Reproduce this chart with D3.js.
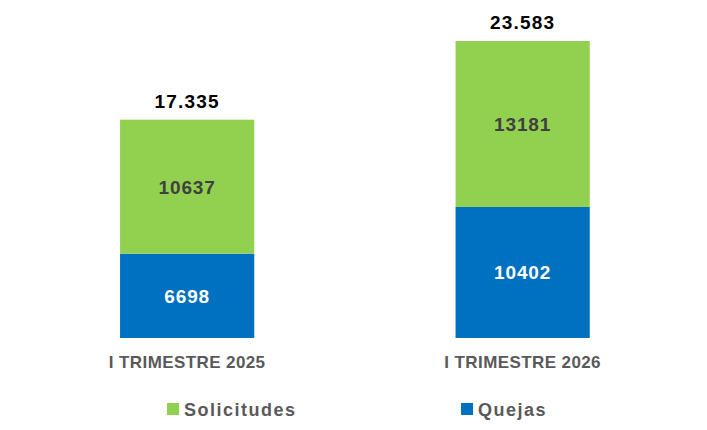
<!DOCTYPE html>
<html>
<head>
<meta charset="utf-8">
<script src="https://cdn.jsdelivr.net/npm/d3@7"></script>
<style>
  body { margin: 0; background: #fff; }
  text { font-family: "Liberation Sans", Arial, sans-serif; font-weight: bold; }
</style>
</head>
<body>
<script>
// data
let periods = ["I TRIMESTRE 2025", "I TRIMESTRE 2026"]
let quejas = [6698, 10402]
let solicitudes = [10637, 13181]
let totalLabels = ["17.335", "23.583"]
let seriesNames = ["Solicitudes", "Quejas"]
let colors = {Solicitudes: "#92D050", Quejas: "#0070C0"}

let width = 707, height = 430

let svg = d3.select('body')
  .append('svg')
  .attr('width', width)
  .attr('height', height)

let table = periods.map((p, i) => ({period: p, Quejas: quejas[i], Solicitudes: solicitudes[i]}))
let stacked = d3.stack().keys(["Quejas", "Solicitudes"])(table)

let scaleX = d3.scaleBand()
  .domain(periods)
  .range([19.4, 690.4])
  .paddingInner(0.6)
  .paddingOuter(0.3)

let scaleY = d3.scaleLinear()
  .domain([0, 23583])
  .range([338, 41])

let layers = svg.selectAll('g.layer')
  .data(stacked)
  .enter()
  .append('g')
  .attr('class', 'layer')
  .attr('fill', d => colors[d.key])

layers.selectAll('rect')
  .data(d => d)
  .enter()
  .append('rect')
  .attr('x', d => scaleX(d.data.period))
  .attr('width', scaleX.bandwidth())
  .attr('y', d => scaleY(d[1]))
  .attr('height', d => scaleY(d[0]) - scaleY(d[1]))

// values inside the segments
stacked.forEach(layer => {
  svg.selectAll(null)
    .data(layer)
    .enter()
    .append('text')
    .attr('x', d => scaleX(d.data.period) + scaleX.bandwidth() / 2)
    .attr('y', d => (scaleY(d[0]) + scaleY(d[1])) / 2 + 7)
    .attr('text-anchor', 'middle')
    .attr('font-size', 19)
    .attr('letter-spacing', 0.9)
    .attr('fill', layer.key == "Quejas" ? "#ffffff" : "#404040")
    .text(d => d.data[layer.key])
})

// totals on top
svg.selectAll('text.total')
  .data(table)
  .enter()
  .append('text')
  .attr('class', 'total')
  .attr('x', d => scaleX(d.period) + scaleX.bandwidth() / 2)
  .attr('y', d => scaleY(d.Quejas + d.Solicitudes) - 12)
  .attr('text-anchor', 'middle')
  .attr('font-size', 19)
  .attr('letter-spacing', 1.2)
  .attr('fill', '#000')
  .text((d, i) => totalLabels[i])

// category axis labels
let xAxis = svg.append('g')
  .attr('transform', 'translate(0,338)')
  .call(d3.axisBottom(scaleX).tickSize(0).tickPadding(18))
xAxis.select('.domain').remove()
xAxis.selectAll('text')
  .attr('font-size', 17)
  .attr('letter-spacing', 0.4)
  .attr('fill', '#595959')
  .style('font-family', '"Liberation Sans", Arial, sans-serif')
  .style('font-weight', 'bold')

// legend
let legendX = [167, 461]
let legend = svg.selectAll('g.legend')
  .data(seriesNames)
  .enter()
  .append('g')
  .attr('class', 'legend')
  .attr('transform', (d, i) => `translate(${legendX[i]},403)`)

legend.append('rect')
  .attr('width', 12)
  .attr('height', 12)
  .attr('fill', d => colors[d])

legend.append('text')
  .attr('x', 17)
  .attr('y', 13)
  .attr('font-size', 18)
  .attr('letter-spacing', 1.5)
  .attr('fill', '#595959')
  .text(d => d)
</script>
</body>
</html>
